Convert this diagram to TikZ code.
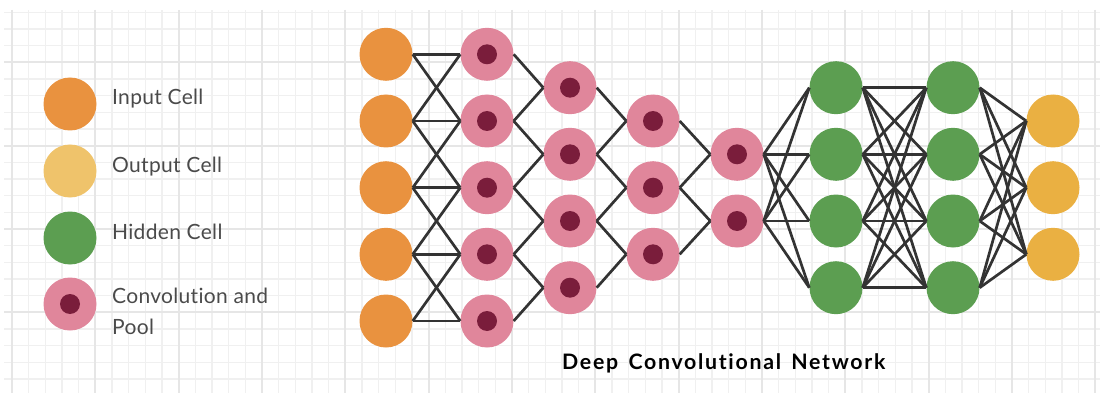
\documentclass[tikz,border=0pt]{standalone}
\usepackage{fontspec}
\setmainfont{Lato}
\newfontfamily\legfont[LetterSpace=1.5,Ligatures=NoCommon]{Lato}
\newfontfamily\titlefont[LetterSpace=8,WordSpace=1.5,Ligatures=NoCommon]{Lato Bold}
\definecolor{inorange}{HTML}{E9923F}
\definecolor{outyellow}{HTML}{EAB042}
\definecolor{outlegend}{HTML}{EFC36B}
\definecolor{hidgreen}{HTML}{5C9E51}
\definecolor{convpink}{HTML}{E0869B}
\definecolor{convdark}{HTML}{7A1D3B}
\definecolor{edgegray}{HTML}{333333}
\definecolor{gridminor}{HTML}{F0F0F0}
\definecolor{gridmajor}{HTML}{E6E6E6}
\definecolor{legtext}{HTML}{4A4A4A}
\tikzset{
  cell/.style={circle, minimum size=53pt, inner sep=0pt},
  incell/.style={cell, fill=inorange},
  outcell/.style={cell, fill=outyellow},
  hidcell/.style={cell, fill=hidgreen},
  convcell/.style={cell, fill=convpink, path picture={\fill[convdark] (path picture bounding box.center) circle (10pt);}},
  conn/.style={draw=edgegray, line width=2.7pt},
  legendtext/.style={anchor=base west, text=legtext, font=\legfont\fontsize{21}{24}\selectfont, inner sep=0pt},
}
\begin{document}
\begin{tikzpicture}[x=1pt,y=-1pt]
\useasboundingbox (0,0) rectangle (1100,393);
% grid
\foreach \k in {0,...,65} {
  \pgfmathsetmacro\xx{12+16.6667*\k}
  \draw[gridminor, line width=1.5pt] (\xx,10) -- (\xx,393);
}
\foreach \k in {0,...,22} {
  \pgfmathsetmacro\yy{12.3+16.6667*\k}
  \draw[gridminor, line width=1.5pt] (4,\yy) -- (1100,\yy);
}
\foreach \k in {0,...,13} {
  \pgfmathsetmacro\xx{12+83.3333*\k}
  \draw[gridmajor, line width=2pt] (\xx,10) -- (\xx,393);
}
\foreach \k in {0,...,4} {
  \pgfmathsetmacro\yy{62.3+83.3333*\k}
  \draw[gridmajor, line width=2pt] (4,\yy) -- (1100,\yy);
}
% legend
\node[incell] (lin) at (70,104) {};
\node[cell, fill=outlegend] (lout) at (70,171) {};
\node[hidcell] (lhid) at (70,238) {};
\node[convcell] (lconv) at (70,304) {};
\node[legendtext] (tin) at (112,105) {Input Cell};
\node[legendtext] (tout) at (112,172) {Output Cell};
\node[legendtext] (thid) at (112,239) {Hidden Cell};
\node[legendtext] (tconv) at (112,303) {Convolution and};
\node[legendtext] (tpool) at (112,334) {Pool};
% layers
\foreach \i/\y in {1/54.3,2/121,3/187.7,4/254.3,5/321} {
  \node[incell] (in\i) at (386,\y) {};
  \node[convcell] (ca\i) at (487,\y) {};
}
\foreach \i/\y in {1/87.7,2/154.3,3/221,4/287.7} {
  \node[convcell] (cb\i) at (570,\y) {};
  \node[hidcell] (ha\i) at (836,\y) {};
  \node[hidcell] (hb\i) at (953,\y) {};
}
\foreach \i/\y in {1/121,2/187.7,3/254.3} {
  \node[convcell] (cc\i) at (653,\y) {};
  \node[outcell] (out\i) at (1053,\y) {};
}
\foreach \i/\y in {1/154.3,2/221} {
  \node[convcell] (cd\i) at (737,\y) {};
}
% input -> conv1
\foreach \i in {1,...,5} {
  \draw[conn] (in\i.east) -- (ca\i.west);
}
\foreach \i/\j in {1/2,2/3,3/4,4/5} {
  \draw[conn] (in\i.east) -- (ca\j.west);
  \draw[conn] (in\j.east) -- (ca\i.west);
}
% conv1 -> conv2
\foreach \i in {1,...,4} {
  \pgfmathtruncatemacro\j{\i+1}
  \draw[conn] (ca\i.east) -- (cb\i.west);
  \draw[conn] (ca\j.east) -- (cb\i.west);
}
% conv2 -> conv3
\foreach \i in {1,...,3} {
  \pgfmathtruncatemacro\j{\i+1}
  \draw[conn] (cb\i.east) -- (cc\i.west);
  \draw[conn] (cb\j.east) -- (cc\i.west);
}
% conv3 -> conv4
\foreach \i in {1,2} {
  \pgfmathtruncatemacro\j{\i+1}
  \draw[conn] (cc\i.east) -- (cd\i.west);
  \draw[conn] (cc\j.east) -- (cd\i.west);
}
% conv4 -> hidden1
\foreach \i in {1,2} \foreach \j in {1,...,4} {
  \draw[conn] (cd\i.east) -- (ha\j.west);
}
% hidden1 -> hidden2
\foreach \i in {1,...,4} \foreach \j in {1,...,4} {
  \draw[conn] (ha\i.east) -- (hb\j.west);
}
% hidden2 -> output
\foreach \i in {1,...,4} \foreach \j in {1,...,3} {
  \draw[conn] (hb\i.east) -- (out\j.west);
}
% title
\node[anchor=base west, inner sep=0pt, text=black, font=\titlefont\fontsize{21.3}{25}\selectfont] (title) at (562,369) {Deep Convolutional Network};
\end{tikzpicture}
\end{document}
